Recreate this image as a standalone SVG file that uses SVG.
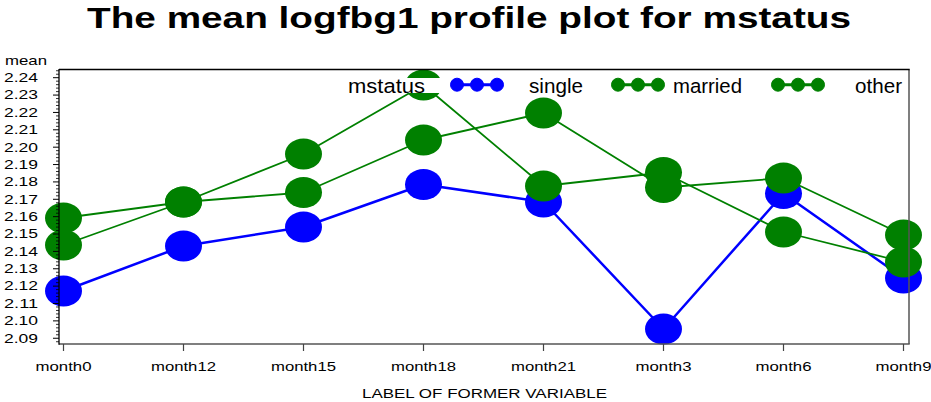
<svg xmlns="http://www.w3.org/2000/svg" width="931" height="402" viewBox="0 0 931 402">
  <style>
    text { font-family: "Liberation Sans", Arial, sans-serif; fill: #000; }
    .title { font-size: 29px; font-weight: bold; }
    .ytick { font-size: 12px; text-anchor: end; }
    .xtick { font-size: 12.5px; text-anchor: middle; }
    .axlab { font-size: 12.5px; }
    .leg { font-size: 20.5px; }
    .single { stroke: #0000ff; stroke-width: 2.5; fill: none; stroke-linejoin: round; }
    .green { stroke: #008000; stroke-width: 1.8; fill: none; stroke-linejoin: round; }
    .dotB { fill: #0000ff; }
    .dotG { fill: #008000; }
  </style>
  <defs>
    <ellipse id="dot" cx="0" cy="0" rx="18.5" ry="15.5"/>
    <g id="legsym">
      <line x1="0" y1="0" x2="40" y2="0" stroke-width="3"/>
      <circle cx="0" cy="0" r="6.5"/>
      <circle cx="20" cy="0" r="6.5"/>
      <circle cx="40" cy="0" r="6.5"/>
    </g>
  </defs>

  <rect width="931" height="402" fill="#fff"/>

  <text class="title" x="87" y="28" textLength="764" lengthAdjust="spacingAndGlyphs">The mean logfbg1 profile plot for mstatus</text>

  <!-- profiles: lines then markers per series -->
  <g id="connectors">
    <polyline id="line-single" class="single" points="63.5,291 183.5,246 303.5,227 423.5,184.5 543.5,202 663.5,329 783.5,193.5 903.5,278"/>
  </g>
  <g id="series-single" class="dotB">
    <use href="#dot" x="63.5" y="291"/>
    <use href="#dot" x="183.5" y="246"/>
    <use href="#dot" x="303.5" y="227"/>
    <use href="#dot" x="423.5" y="184.5"/>
    <use href="#dot" x="543.5" y="202"/>
    <use href="#dot" x="663.5" y="329"/>
    <use href="#dot" x="783.5" y="193.5"/>
    <use href="#dot" x="903.5" y="278"/>
  </g>
  <g id="connectors-green">
    <polyline id="line-married" class="green" points="63.5,245 183.5,202 303.5,154 423.5,85 543.5,186 663.5,172.5 783.5,232 903.5,262"/>
    <polyline id="line-other" class="green" points="63.5,218 183.5,202 303.5,192.5 423.5,140 543.5,113 663.5,187.5 783.5,178 903.5,235"/>
  </g>
  <g id="series-married" class="dotG">
    <use href="#dot" x="63.5" y="245"/>
    <use href="#dot" x="183.5" y="202"/>
    <use href="#dot" x="303.5" y="154"/>
    <use href="#dot" x="423.5" y="85"/>
    <use href="#dot" x="543.5" y="186"/>
    <use href="#dot" x="663.5" y="172.5"/>
    <use href="#dot" x="783.5" y="232"/>
    <use href="#dot" x="903.5" y="262"/>
  </g>
  <g id="series-other" class="dotG">
    <use href="#dot" x="63.5" y="218"/>
    <use href="#dot" x="183.5" y="202"/>
    <use href="#dot" x="303.5" y="192.5"/>
    <use href="#dot" x="423.5" y="140"/>
    <use href="#dot" x="543.5" y="113"/>
    <use href="#dot" x="663.5" y="187.5"/>
    <use href="#dot" x="783.5" y="178"/>
    <use href="#dot" x="903.5" y="235"/>
  </g>

  <!-- legend row with opaque background -->
  <g id="legend">
    <rect x="340" y="78" width="566" height="15" fill="#fff"/>
    <text class="leg" x="348" y="93" textLength="77" lengthAdjust="spacingAndGlyphs">mstatus</text>
    <use href="#legsym" x="457" y="84.7" fill="#0000ff" stroke="#0000ff"/>
    <text class="leg" x="529" y="93" textLength="54" lengthAdjust="spacingAndGlyphs">single</text>
    <use href="#legsym" x="618" y="84.7" fill="#008000" stroke="#008000"/>
    <text class="leg" x="673" y="93" textLength="69" lengthAdjust="spacingAndGlyphs">married</text>
    <use href="#legsym" x="778" y="84.7" fill="#008000" stroke="#008000"/>
    <text class="leg" x="855" y="93" textLength="47" lengthAdjust="spacingAndGlyphs">other</text>
  </g>

  <!-- frame and axes -->
  <g id="axes">
    <line x1="909" y1="69.5" x2="909" y2="344" stroke="#555" stroke-width="1.5"/>
    <line x1="59" y1="344" x2="909.7" y2="344" stroke="#555" stroke-width="1.5"/>
    <line x1="59" y1="69.5" x2="909.7" y2="69.5" stroke="#000" stroke-width="1.3"/>
    <line x1="59" y1="69" x2="59" y2="344.7" stroke="#000" stroke-width="1.3"/>
    <path stroke="#000" stroke-width="1" fill="none" d="M53,77.7H59 M53,95.07H59 M53,112.44H59 M53,129.81H59 M53,147.18H59 M53,164.55H59 M53,181.92H59 M53,199.29H59 M53,216.66H59 M53,234.03H59 M53,251.4H59 M53,268.77H59 M53,286.14H59 M53,303.51H59 M53,320.88H59 M53,338.25H59"/>
    <path stroke="#000" stroke-width="0.8" fill="none" d="M56,70.75H59 M56,74.23H59 M56,81.17H59 M56,84.65H59 M56,88.12H59 M56,91.6H59 M56,98.54H59 M56,102.02H59 M56,105.49H59 M56,108.97H59 M56,115.91H59 M56,119.39H59 M56,122.86H59 M56,126.34H59 M56,133.28H59 M56,136.76H59 M56,140.23H59 M56,143.71H59 M56,150.65H59 M56,154.13H59 M56,157.6H59 M56,161.08H59 M56,168.02H59 M56,171.5H59 M56,174.97H59 M56,178.45H59 M56,185.39H59 M56,188.87H59 M56,192.34H59 M56,195.82H59 M56,202.76H59 M56,206.24H59 M56,209.71H59 M56,213.19H59 M56,220.13H59 M56,223.61H59 M56,227.08H59 M56,230.56H59 M56,237.5H59 M56,240.98H59 M56,244.45H59 M56,247.93H59 M56,254.87H59 M56,258.35H59 M56,261.82H59 M56,265.3H59 M56,272.24H59 M56,275.72H59 M56,279.19H59 M56,282.67H59 M56,289.61H59 M56,293.09H59 M56,296.56H59 M56,300.04H59 M56,306.98H59 M56,310.46H59 M56,313.93H59 M56,317.41H59 M56,324.35H59 M56,327.83H59 M56,331.3H59 M56,334.78H59 M56,341.72H59"/>
    <path stroke="#444" stroke-width="1.2" fill="none" d="M63.5,344V351 M183.5,344V351 M303.5,344V351 M423.5,344V351 M543.5,344V351 M663.5,344V351 M783.5,344V351 M903.5,344V351"/>

    <text x="5" y="65" font-size="13" textLength="42" lengthAdjust="spacingAndGlyphs">mean</text>
    <g class="ytick">
      <text x="38" y="82" textLength="34" lengthAdjust="spacingAndGlyphs">2.24</text>
      <text x="38" y="99.4" textLength="34" lengthAdjust="spacingAndGlyphs">2.23</text>
      <text x="38" y="116.8" textLength="34" lengthAdjust="spacingAndGlyphs">2.22</text>
      <text x="38" y="134.1" textLength="34" lengthAdjust="spacingAndGlyphs">2.21</text>
      <text x="38" y="151.5" textLength="34" lengthAdjust="spacingAndGlyphs">2.20</text>
      <text x="38" y="168.9" textLength="34" lengthAdjust="spacingAndGlyphs">2.19</text>
      <text x="38" y="186.2" textLength="34" lengthAdjust="spacingAndGlyphs">2.18</text>
      <text x="38" y="203.6" textLength="34" lengthAdjust="spacingAndGlyphs">2.17</text>
      <text x="38" y="221" textLength="34" lengthAdjust="spacingAndGlyphs">2.16</text>
      <text x="38" y="238.3" textLength="34" lengthAdjust="spacingAndGlyphs">2.15</text>
      <text x="38" y="255.7" textLength="34" lengthAdjust="spacingAndGlyphs">2.14</text>
      <text x="38" y="273.1" textLength="34" lengthAdjust="spacingAndGlyphs">2.13</text>
      <text x="38" y="290.4" textLength="34" lengthAdjust="spacingAndGlyphs">2.12</text>
      <text x="38" y="307.8" textLength="34" lengthAdjust="spacingAndGlyphs">2.11</text>
      <text x="38" y="325.2" textLength="34" lengthAdjust="spacingAndGlyphs">2.10</text>
      <text x="38" y="342.6" textLength="34" lengthAdjust="spacingAndGlyphs">2.09</text>
    </g>
    <g class="xtick">
      <text x="63.5" y="371" textLength="56" lengthAdjust="spacingAndGlyphs">month0</text>
      <text x="183.5" y="371" textLength="65" lengthAdjust="spacingAndGlyphs">month12</text>
      <text x="303.5" y="371" textLength="65" lengthAdjust="spacingAndGlyphs">month15</text>
      <text x="423.5" y="371" textLength="65" lengthAdjust="spacingAndGlyphs">month18</text>
      <text x="543.5" y="371" textLength="65" lengthAdjust="spacingAndGlyphs">month21</text>
      <text x="663.5" y="371" textLength="56" lengthAdjust="spacingAndGlyphs">month3</text>
      <text x="783.5" y="371" textLength="56" lengthAdjust="spacingAndGlyphs">month6</text>
      <text x="903.5" y="371" textLength="56" lengthAdjust="spacingAndGlyphs">month9</text>
    </g>
    <text class="axlab" x="362" y="398" textLength="245" lengthAdjust="spacingAndGlyphs">LABEL OF FORMER VARIABLE</text>
  </g>
</svg>
